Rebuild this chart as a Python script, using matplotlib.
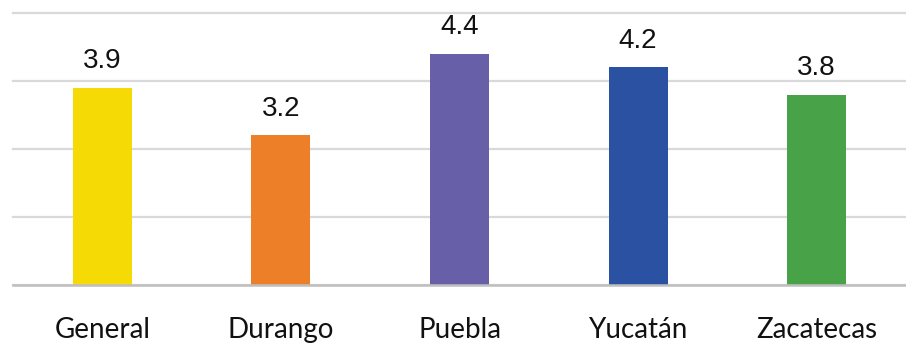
import matplotlib.pyplot as plt

# средние оценки по штатам
estados = ['General', 'Durango', 'Puebla', 'Yucatán', 'Zacatecas']
valores = [3.9, 3.2, 4.4, 4.2, 3.8]
colores = ['#F6DA06', '#EC7F27', '#6760A9', '#2B52A2', '#48A248']

fig = plt.figure(figsize=(9.06, 3.45), dpi=100)
ax = fig.add_axes([13 / 906, 60 / 345, 893 / 906, 272 / 345])

x = range(len(estados))
barras = ax.bar(x, valores, width=0.33, color=colores, bottom=0)
ax.set_ylim(1, 5)
ax.set_xlim(-0.5, len(estados) - 0.5)

# подписи значений над столбцами
ax.bar_label(barras, labels=[f'{v:.1f}' for v in valores], padding=10,
             fontsize=20, family='Liberation Sans', color='#111111')

ax.set_yticks([1, 2, 3, 4, 5])
ax.yaxis.grid(True, color='#D9D9D9', linewidth=1.6, clip_on=False)
ax.set_axisbelow(True)
for s in ['top', 'left', 'right']:
    ax.spines[s].set_visible(False)
ax.spines['bottom'].set_color('#BFBFBF')
ax.spines['bottom'].set_linewidth(1.8)

ax.set_xticks(list(x))
ax.set_xticklabels(estados, fontsize=20, family='Lato', color='#111111')
ax.tick_params(axis='x', length=0, pad=23)
ax.tick_params(axis='y', length=0, labelleft=False)

plt.savefig('out.png', dpi=100)
